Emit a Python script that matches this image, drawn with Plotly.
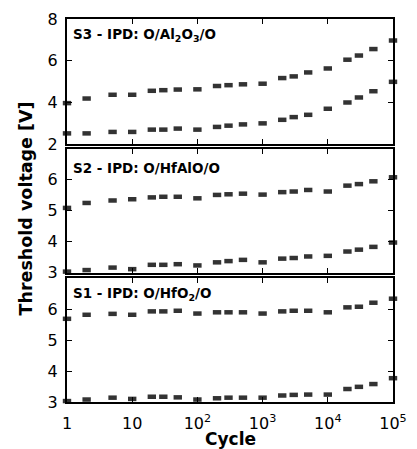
import plotly.graph_objects as go

cycles = [1, 2, 5, 10, 20, 30, 50, 100, 200, 300, 500, 1000, 2000, 3000, 5000,
          1e4, 2e4, 3e4, 5e4, 1e5]

s3_high = [3.97, 4.19, 4.37, 4.37, 4.56, 4.59, 4.62, 4.63, 4.79, 4.83, 4.87, 4.90,
           5.17, 5.25, 5.44, 5.63, 6.05, 6.25, 6.56, 6.97]
s3_low = [2.52, 2.52, 2.59, 2.59, 2.70, 2.70, 2.75, 2.70, 2.83, 2.89, 2.95, 3.00,
          3.17, 3.30, 3.41, 3.70, 4.00, 4.24, 4.54, 4.99]
s2_high = [5.09, 5.25, 5.33, 5.37, 5.43, 5.45, 5.45, 5.40, 5.51, 5.53, 5.55, 5.52,
           5.60, 5.62, 5.67, 5.62, 5.81, 5.86, 5.95, 6.08]
s2_low = [3.03, 3.08, 3.16, 3.11, 3.25, 3.25, 3.27, 3.23, 3.33, 3.37, 3.41, 3.33,
          3.45, 3.47, 3.52, 3.54, 3.68, 3.74, 3.83, 3.97]
s1_high = [5.69, 5.82, 5.85, 5.82, 5.93, 5.93, 5.95, 5.86, 5.90, 5.90, 5.90, 5.86,
           5.93, 5.95, 5.95, 5.90, 6.06, 6.08, 6.21, 6.34]
s1_low = [3.03, 3.08, 3.14, 3.10, 3.17, 3.17, 3.15, 3.08, 3.12, 3.14, 3.14, 3.14,
          3.21, 3.23, 3.24, 3.24, 3.42, 3.49, 3.58, 3.77]

panel_labels = ["S3 - IPD: O/Al<sub>2</sub>O<sub>3</sub>/O",
                "S2 - IPD: O/HfAlO/O",
                "S1 - IPD: O/HfO<sub>2</sub>/O"]
x_tickvals = [1, 10, 100, 1000, 1e4, 1e5]
x_ticktext = ["1", "10", "10<sup>2</sup>", "10<sup>3</sup>", "10<sup>4</sup>", "10<sup>5</sup>"]
x_title = "Cycle"
y_title = "Threshold voltage [V]"

FONT = "DejaVu Sans, Liberation Sans, Arial, sans-serif"
MC = "#333333"

fig = go.Figure()
panels = [(s3_high, s3_low, "x", "y"), (s2_high, s2_low, "x2", "y2"), (s1_high, s1_low, "x3", "y3")]
for hi, lo, xa, ya in panels:
    for ser in (hi, lo):
        fig.add_trace(go.Scatter(
            x=cycles, y=ser, mode="markers", xaxis=xa, yaxis=ya, cliponaxis=False,
            marker=dict(symbol="line-ew", size=6, color=MC,
                        line=dict(color=MC, width=4.5)),
            showlegend=False))

axis_common = dict(showline=True, linecolor="black", linewidth=2, mirror="allticks",
                   ticks="inside", ticklen=5, tickwidth=1, tickcolor="black",
                   showgrid=False, zeroline=False,
                   tickfont=dict(family=FONT, size=16, color="black"))

domains = [[0.673, 1.0], [0.338, 0.661], [0.0, 0.323]]
yranges = [[2, 8], [3, 7], [3, 7]]
ytickvals = [[2, 4, 6, 8], [3, 4, 5, 6], [3, 4, 5, 6]]

layout = dict(
    width=417, height=449,
    margin=dict(l=67, r=21, t=10, b=47),
    paper_bgcolor="white", plot_bgcolor="white",
    font=dict(family=FONT, color="black"),
)
names = ["", "2", "3"]
for i, n in enumerate(names):
    xa = dict(axis_common, type="log", range=[0, 5], tickvals=x_tickvals,
              ticktext=x_ticktext, anchor="y" + n, domain=[0, 1], ticklabelstandoff=6)
    if n != "3":
        xa["showticklabels"] = False
    if n:
        xa["matches"] = "x"
    layout["xaxis" + n] = xa
    ya = dict(axis_common, range=yranges[i], tickvals=ytickvals[i], domain=domains[i],
              anchor="x" + n, ticklabelstandoff=4)
    layout["yaxis" + n] = ya

fig.update_layout(**layout)

label_y = [0.957, 0.610, 0.281]
for i, txt in enumerate(panel_labels):
    fig.add_annotation(text="<b>" + txt + "</b>", xref="paper", yref="paper",
                       x=0.012, y=label_y[i],
                       xanchor="left", yanchor="middle", showarrow=False,
                       font=dict(family=FONT, size=13.5, color="black"))

fig.add_annotation(text="<b>" + x_title + "</b>", xref="paper", yref="paper",
                   x=0.5, y=-0.097, showarrow=False, xanchor="center", yanchor="middle",
                   font=dict(family=FONT, size=17, color="black"))

fig.add_annotation(text="<b>" + y_title + "</b>", xref="paper", yref="paper",
                   x=-0.125, y=0.506, textangle=-90, showarrow=False,
                   xanchor="center", yanchor="middle",
                   font=dict(family=FONT, size=17.5, color="black"))

fig.write_html("out.html")
